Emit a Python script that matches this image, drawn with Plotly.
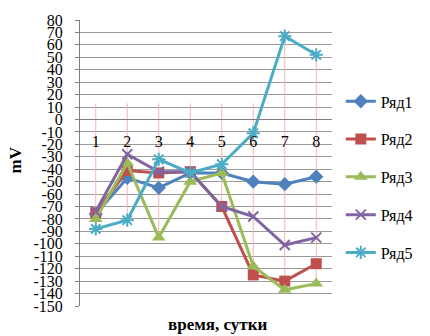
import plotly.graph_objects as go

categories = ["1", "2", "3", "4", "5", "6", "7", "8"]
series_names = ["Ряд1", "Ряд2", "Ряд3", "Ряд4", "Ряд5"]
ryad1 = [-76, -47, -55, -43, -43, -50, -52, -46]
ryad2 = [-75, -41, -43, -42, -70, -125, -130, -116]
ryad3 = [-80, -35, -95, -50, -43, -118, -137, -132]
ryad4 = [-74, -28, -42, -42, -70, -78, -101, -95]
ryad5 = [-88, -81, -32, -43, -36, -11, 67, 52]
y_ticks = list(range(-150, 81, 10))
x_title = "время, сутки"
y_title = "mV"

series = [ryad1, ryad2, ryad3, ryad4, ryad5]
colors = ["#4F81BD", "#C0504D", "#9BBB59", "#8064A2", "#4BACC6"]
symbols = ["diamond", "square", "triangle-up", "x-thin", "asterisk"]
sizes = [11, 11, 12, 10, 11]

YMIN, YMAX = -150, 80
serif = "Liberation Serif"
xs = list(range(1, len(categories) + 1))

fig = go.Figure()

# high-low style vertical lines (pink)
lx, ly = [], []
for i, x in enumerate(xs):
    vals = [s[i] for s in series]
    lx += [x, x, None]
    ly += [max(max(vals), 13), min(vals), None]
fig.add_trace(go.Scatter(x=lx, y=ly, mode="lines", line=dict(color="#F2B8B8", width=1),
                         showlegend=False, hoverinfo="skip"))

for name, vals, c, sym, sz in zip(series_names, series, colors, symbols, sizes):
    marker = dict(symbol=sym, size=sz, color=c)
    if sym in ("x-thin", "asterisk"):
        marker["line"] = dict(color=c, width=2)
    fig.add_trace(go.Scatter(x=xs, y=vals, name=name, mode="lines+markers",
                             line=dict(color=c, width=3), marker=marker,
                             legendgroup=name))

fig.update_layout(
    width=430, height=336,
    margin=dict(l=80, r=96, t=17, b=30),
    paper_bgcolor="white", plot_bgcolor="white",
    font=dict(family=serif, color="black"),
    legend=dict(x=1.035, xanchor="left", y=0.775, yanchor="top",
                font=dict(family=serif, size=16, color="black"),
                tracegroupgap=14, bgcolor="rgba(0,0,0,0)"),
    showlegend=True,
)
fig.update_yaxes(range=[YMIN, YMAX], tickvals=y_ticks, ticktext=[str(v) for v in y_ticks],
                 showgrid=True, gridcolor="#9a9a9a", gridwidth=1,
                 showline=True, linecolor="#7f7f7f", linewidth=1,
                 ticks="outside", ticklen=4, tickcolor="#7f7f7f",
                 ticklabelstandoff=9,
                 tickfont=dict(family=serif, size=16, color="black"),
                 zeroline=False)
fig.update_xaxes(range=[0.5, len(categories) + 0.5], tickvals=xs, ticktext=categories,
                 showgrid=False, zeroline=False, anchor="free",
                 position=(0 - YMIN) / (YMAX - YMIN),
                 showline=True, linecolor="#7f7f7f", linewidth=1, ticks="",
                 ticklabelstandoff=7,
                 tickfont=dict(family=serif, size=16, color="black"))

fig.add_annotation(text="<b>" + y_title + "</b>", xref="paper", yref="paper",
                   x=-0.302, y=0.51, textangle=-90, showarrow=False,
                   font=dict(family=serif, size=17, color="black"))
fig.add_annotation(text="<b>" + x_title + "</b>", xref="paper", yref="paper",
                   x=0.545, y=-0.025, yanchor="top", showarrow=False,
                   font=dict(family=serif, size=17, color="black"))

fig.write_html("out.html", config={"displayModeBar": False},
               post_script="document.body.style.margin='0';")
